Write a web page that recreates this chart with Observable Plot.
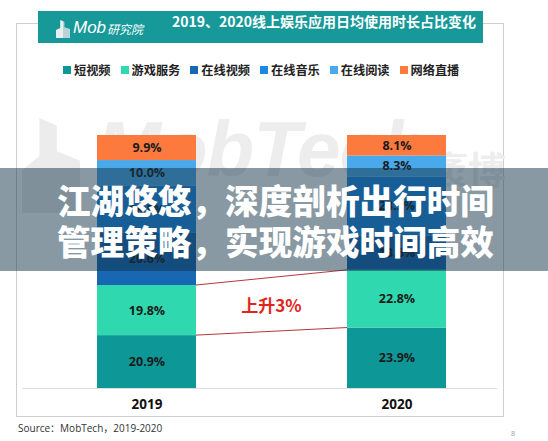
<!DOCTYPE html>
<html><head><meta charset="utf-8">
<script src="https://cdn.jsdelivr.net/npm/d3@7"></script>
<script src="https://cdn.jsdelivr.net/npm/@observablehq/plot@0.6"></script>
<style>
body{margin:0;background:#fff;}
#page{position:relative;width:548px;height:441px;overflow:hidden;font-family:"Open Sans","Noto Sans CJK SC",sans-serif;background:#fff;}
#frame{position:absolute;left:16px;top:23px;width:486px;height:392px;border:1px solid #cfcfcf;}
#wm{position:absolute;left:0;top:0;width:548px;height:441px;}
#wm .logo{position:absolute;left:22px;top:118px;width:58px;height:95px;background:#ececec;clip-path:polygon(30% 0,60% 8%,60% 35%,100% 45%,100% 100%,0 100%,0 55%,30% 40%);}
#wm .t1{position:absolute;left:96px;top:104px;font:italic bold 78px "Liberation Sans",Arial,sans-serif;color:#ededed;letter-spacing:-1px;}
#wm .t2{position:absolute;left:430px;top:140px;font:bold 38px "Noto Sans CJK SC",sans-serif;color:#ededed;}
#chart{position:absolute;left:0;top:0;}
#header{position:absolute;left:38px;top:11px;width:445px;height:32px;background:#17999a;color:#fff;}
#header .logo{position:absolute;left:18px;top:5px;height:22px;display:flex;align-items:flex-end;}
#header .icon{width:14px;height:18px;background:linear-gradient(90deg,#e8eef0 0,#e8eef0 50%,#b9d3d6 50%);clip-path:polygon(30% 0,60% 10%,60% 40%,100% 50%,100% 100%,0 100%,0 55%,30% 45%);margin-right:3px;}
#header .mob{font:italic 17px "Liberation Sans",Arial,sans-serif;line-height:20px;}
#header .yj{font:italic 12px "Noto Sans CJK SC",sans-serif;line-height:18px;margin-left:1px;}
#header .title{position:absolute;left:134px;top:0;height:32px;line-height:32px;font:bold 14px "Noto Sans CJK SC",sans-serif;white-space:nowrap;}
#legend{position:absolute;left:63px;top:62px;height:16px;display:flex;gap:10px;align-items:center;font:bold 12.2px "Noto Sans CJK SC",sans-serif;color:#222;white-space:nowrap;}
#legend .item{display:flex;align-items:center;}
#legend .sw{width:8px;height:8px;margin-right:3px;}
#src{position:absolute;left:18px;top:420px;font:10px "Open Sans","Noto Sans CJK SC",sans-serif;color:#333;white-space:nowrap;}
#pg{position:absolute;left:511px;top:429px;font:7px "Open Sans",sans-serif;color:#999;}
#overlay{position:absolute;left:0;top:168px;width:548px;height:103px;background:rgba(18,52,72,0.5);}
#overlay div{position:absolute;left:57px;font-family:"Noto Sans CJK SC",sans-serif;font-weight:900;font-size:33.5px;color:#fff;white-space:nowrap;line-height:41px;}
</style></head><body>
<div id="page">
  <div id="frame"></div>
  <div id="wm"><div class="logo"></div><div class="t1">MobTech</div><div class="t2">袤博</div></div>
  <div id="chart"></div>
  <div id="header"><div class="logo"><div class="icon"></div><span class="mob">Mob</span><span class="yj">研究院</span></div><div class="title"></div></div>
  <div id="legend"></div>
  <div id="src"></div>
  <div id="pg">8</div>
  <div id="overlay"><div id="ol1" style="top:11px"></div><div id="ol2" style="top:52px"></div></div>
</div>
<script>
const title = "2019、2020线上娱乐应用日均使用时长占比变化";
const years = ["2019", "2020"];
const categories = ["短视频", "游戏服务", "在线视频", "在线音乐", "在线阅读", "网络直播"];
const colors = ["#0e9797", "#2fd8ae", "#1767b2", "#1e88e5", "#4aa9ea", "#fd7a3f"];
const values2019 = [20.9, 19.8, 20.6, 18.8, 10.0, 9.9];
const values2020 = [23.9, 22.8, 13.6, 23.3, 8.3, 8.1];
const annotation = "上升3%";
const sourceText = "Source：MobTech，2019-2020";
const bannerLines = ["江湖悠悠，深度剖析出行时间", "管理策略，实现游戏时间高效"];

document.querySelector("#header .title").textContent = title;
document.getElementById("src").textContent = sourceText;
["ol1", "ol2"].forEach((id, i) => {
  const el = document.getElementById(id);
  el.textContent = bannerLines[i];
  const w = el.getBoundingClientRect().width;
  if (w > 0) el.style.fontSize = (33.5 * 437 / w) + "px";
});

const legend = document.getElementById("legend");
categories.forEach((c, i) => {
  const it = document.createElement("div"); it.className = "item";
  const sw = document.createElement("div"); sw.className = "sw"; sw.style.background = colors[i];
  const tx = document.createElement("span"); tx.textContent = c;
  it.appendChild(sw); it.appendChild(tx); legend.appendChild(it);
});

const series = [values2019, values2020];
const rows = years.flatMap((y, i) => categories.map((c, j) => ({year: y, category: c, value: series[i][j]})));

const plot = Plot.plot({
  width: 548, height: 441,
  marginTop: 135, marginBottom: 53, marginLeft: 97, marginRight: 102,
  style: {background: "transparent", fontFamily: "'Open Sans','Noto Sans CJK SC',sans-serif", overflow: "visible"},
  x: {domain: years, paddingInner: 0.604, paddingOuter: 0, label: null},
  y: {domain: [0, 100], axis: null},
  color: {domain: categories, range: colors},
  marks: [
    Plot.ruleY([0], {stroke: "#dedede", insetLeft: -75, insetRight: -51}),
    Plot.barY(rows, {x: "year", y: "value", fill: "category"}),
    Plot.text(rows, Plot.stackY({x: "year", y: "value", z: "category",
      text: d => d.value.toFixed(1) + "%", fill: "#1a1a1a", fontWeight: "bold", fontSize: 12.5})),
    Plot.axisX({tickSize: 0, tickPadding: 11, fontSize: 13.5, fontWeight: "bold", fill: "#111", label: null})
  ]
});
document.getElementById("chart").appendChild(plot);

// annotation: lines linking the 游戏服务 segment boundaries, drawn with the plot's scales
const xs = plot.scale("x"), ys = plot.scale("y");
const bw = xs.bandwidth;
const xa = xs.apply(years[0]) + bw, xb = xs.apply(years[1]);
const cum = s => { let t = 0; return s.map(v => (t += v)); };
const c19 = cum(values2019), c20 = cum(values2020);
const svg = d3.select(plot);
const g = svg.append("g");
[[c19[0], c20[0]], [c19[1], c20[1]]].forEach(([a, b]) => {
  g.append("line").attr("x1", xa).attr("x2", xb).attr("y1", ys.apply(a)).attr("y2", ys.apply(b))
    .attr("stroke", "#b8363a").attr("stroke-width", 1);
});
g.append("text").attr("x", (xa + xb) / 2).attr("y", ys.apply((c19[0] + c20[0] + c19[1] + c20[1]) / 4))
  .attr("text-anchor", "middle").attr("dominant-baseline", "central")
  .attr("fill", "#e1251b").attr("font-weight", "bold").attr("font-size", 17)
  .attr("font-family", "'Noto Sans CJK SC',sans-serif").text(annotation);
</script>
</body></html>
